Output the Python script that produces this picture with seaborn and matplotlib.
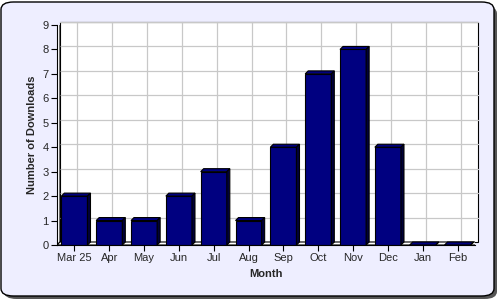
import numpy as np
import pandas as pd
import matplotlib
matplotlib.use("Agg")
import matplotlib.pyplot as plt
import matplotlib.transforms as mtransforms
from matplotlib.patches import Polygon, FancyBboxPatch, Rectangle
import seaborn as sns

months = ["Mar 25", "Apr", "May", "Jun", "Jul", "Aug", "Sep", "Oct", "Nov", "Dec", "Jan", "Feb"]
downloads = [2, 1, 1, 2, 3, 1, 4, 7, 8, 4, 0, 0]
y_ticks = [0, 1, 2, 3, 4, 5, 6, 7, 8, 9]
x_title = "Month"
y_title = "Number of Downloads"

sns.set_style("white")
plt.rcParams["font.family"] = ["Liberation Sans", "DejaVu Sans"]

W, H, DPI = 500, 300, 100
fig = plt.figure(figsize=(W / DPI, H / DPI), dpi=DPI)
fig.patch.set_facecolor("white")

# outer rounded panel with shadow
shadow = FancyBboxPatch((4 / W, 1 / H), 493 / W, 293 / H,
                        boxstyle="round,pad=0,rounding_size=0.025",
                        transform=fig.transFigure, facecolor="#555555",
                        edgecolor="none", zorder=-3)
panel = FancyBboxPatch((1 / W, 4 / H), 493 / W, 294 / H,
                       boxstyle="round,pad=0,rounding_size=0.025",
                       transform=fig.transFigure, facecolor="#EEEEFF",
                       edgecolor="black", linewidth=1.0, zorder=-2)
fig.patches.extend([shadow, panel])

left, right, bottom, top = 57, 475, 245, 25
ax = fig.add_axes([left / W, (H - bottom) / H, (right - left) / W, (bottom - top) / H])
ax.set_zorder(1)
ax.patch.set_visible(False)

df = pd.DataFrame({"Month": months, "Downloads": downloads})
sns.barplot(data=df, x="Month", y="Downloads", color="#000080", saturation=1,
            width=0.75, edgecolor="black", linewidth=0.8, ax=ax, zorder=5)

ax.set_xlim(-0.5, len(months) - 0.5)
ax.set_ylim(0, 9)
ax.set_yticks(y_ticks)
ax.set_yticklabels([str(v) for v in y_ticks])

d = 3 / DPI  # 3-pixel depth
off = mtransforms.ScaledTranslation(d, d, fig.dpi_scale_trans)

# back wall
ax.add_patch(Rectangle((0, 0), 1, 1, transform=ax.transAxes + off, facecolor="white",
                       edgecolor="black", linewidth=0.8, zorder=0.5, clip_on=False))
# gridlines on back wall
for v in y_ticks[1:]:
    ax.plot([0, 1], [v, v], transform=ax.get_yaxis_transform() + off, color="#c8c8c8",
            linewidth=0.9, zorder=1, clip_on=False)
for i in range(len(months)):
    ax.plot([i, i], [0, 1], transform=ax.get_xaxis_transform() + off, color="#c8c8c8",
            linewidth=0.9, zorder=1, clip_on=False)

fig.canvas.draw()
tr = ax.transData
p00 = tr.transform((-0.5, 0))
p10 = tr.transform((len(months) - 0.5, 0))
p01 = tr.transform((-0.5, 9))
dp = 3
# left wall
ax.add_patch(Polygon([p00, p01, p01 + [dp, dp], p00 + [dp, dp]], closed=True, transform=None,
                     facecolor="white", edgecolor="black", linewidth=0.8, zorder=2))
# floor
ax.add_patch(Polygon([p00, p10, p10 + [dp, dp], p00 + [dp, dp]], closed=True, transform=None,
                     facecolor="white", edgecolor="black", linewidth=0.8, zorder=2))

# 3D faces for bars
for bar in list(ax.patches):
    if not isinstance(bar, Rectangle) or bar.get_zorder() != 5:
        continue
    x0, y0 = bar.get_x(), bar.get_y()
    x1, y1 = x0 + bar.get_width(), y0 + bar.get_height()
    a = tr.transform((x0, y1))
    b = tr.transform((x1, y1))
    c = tr.transform((x1, y0))
    ax.add_patch(Polygon([a, b, b + [dp, dp], a + [dp, dp]], closed=True, transform=None,
                         facecolor="#000080", edgecolor="black", linewidth=0.8, zorder=6))
    ax.add_patch(Polygon([b, c, c + [dp, dp], b + [dp, dp]], closed=True, transform=None,
                         facecolor="#00003a", edgecolor="black", linewidth=0.8, zorder=6))

for s in ["top", "right"]:
    ax.spines[s].set_visible(False)
for s in ["left", "bottom"]:
    ax.spines[s].set_color("black")
    ax.spines[s].set_linewidth(0.8)
    ax.spines[s].set_zorder(7)

ax.tick_params(axis="both", direction="out", length=4, width=0.8, color="black",
               labelsize=8, pad=2, left=True, bottom=True)
ax.set_xlabel(x_title, fontsize=8, fontweight="bold", labelpad=4)
ax.set_ylabel(y_title, fontsize=8, fontweight="bold", labelpad=4)

fig.savefig("out.png", dpi=DPI)
